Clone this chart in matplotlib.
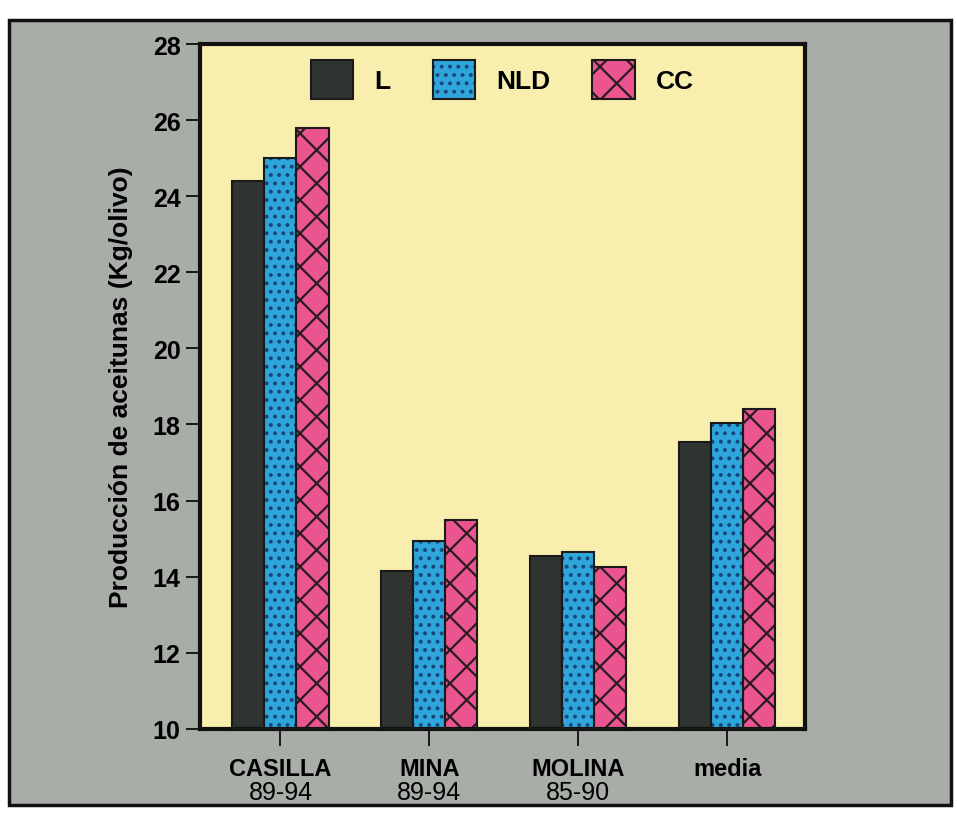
import matplotlib.pyplot as plt
from matplotlib.patches import Rectangle, Patch
from matplotlib.legend_handler import HandlerTuple
import numpy as np

plt.rcParams['font.family'] = ['Liberation Sans', 'DejaVu Sans']
plt.rcParams['hatch.linewidth'] = 1.6

# production per tree, kg/olive tree
sites = ['CASILLA', 'MINA', 'MOLINA', 'media']
periods = ['89-94', '89-94', '85-90', '']
series = ['L', 'NLD', 'CC']
prod_L = [24.4, 14.15, 14.55, 17.55]
prod_NLD = [25.0, 14.95, 14.65, 18.05]
prod_CC = [25.8, 15.5, 14.25, 18.4]

face = ['#2f3431', '#2ea6dc', '#ea5590']
hatch = ['', '..', 'x']
hatch_col = ['#2f3431', '#16477a', '#2a1a22']

fig = plt.figure(figsize=(9.57, 8.2), dpi=100)
fig.patch.set_facecolor('white')
# grey panel behind the chart
fig.patches.append(Rectangle((0.009, 0.017), 0.985, 0.958, transform=fig.transFigure,
                             facecolor='#a8ada8', edgecolor='#111111', lw=2.5, zorder=-1))

ax = fig.add_axes([0.209, 0.11, 0.632, 0.835])
ax.set_facecolor('#f8efae')

x = np.arange(len(sites))
w = 0.215
handles = []
for i, vals in enumerate([prod_L, prod_NLD, prod_CC]):
    pos = x + (i - 1) * w
    ax.bar(pos, np.array(vals) - 10, w, bottom=10, color=face[i], hatch=hatch[i],
           edgecolor=hatch_col[i], linewidth=0, zorder=2)
    ax.bar(pos, np.array(vals) - 10, w, bottom=10, fill=False, edgecolor='#1a1a1a',
           linewidth=1.5, zorder=3)
    h1 = Patch(facecolor=face[i], hatch=hatch[i], edgecolor=hatch_col[i], linewidth=0)
    h2 = Patch(fill=False, edgecolor='#1a1a1a', linewidth=1.5)
    handles.append((h1, h2))

ax.set_xlim(-0.54, 3.52)
ax.set_ylim(10, 28)
ax.set_yticks(range(10, 29, 2))
ax.tick_params(axis='y', direction='out', length=10, width=1.2, pad=4, labelsize=18)
ax.tick_params(axis='x', direction='out', length=12, width=1.2, pad=8, labelsize=17)
for lab in ax.get_yticklabels():
    lab.set_fontweight('bold')
ax.set_xticks(x)
ax.set_xticklabels(sites, fontweight='bold')
for xi, p in zip(x, periods):
    ax.text(xi, -0.075, p, transform=ax.get_xaxis_transform(), ha='center', va='top',
            fontsize=18)

for s in ax.spines.values():
    s.set_linewidth(3)
    s.set_color('#111111')

ax.set_ylabel('Producción de aceitunas (Kg/olivo)', fontsize=19, fontweight='bold',
              labelpad=14)

leg = ax.legend(handles, series, handler_map={tuple: HandlerTuple(ndivide=1, pad=0)},
                ncol=3, loc='upper center', bbox_to_anchor=(0.5, 1.0), frameon=False,
                prop={'weight': 'bold', 'size': 19},
                handlelength=1.6, handleheight=1.9, handletextpad=0.8,
                columnspacing=1.6, borderaxespad=0.2)

fig.savefig('out.png', dpi=100)
